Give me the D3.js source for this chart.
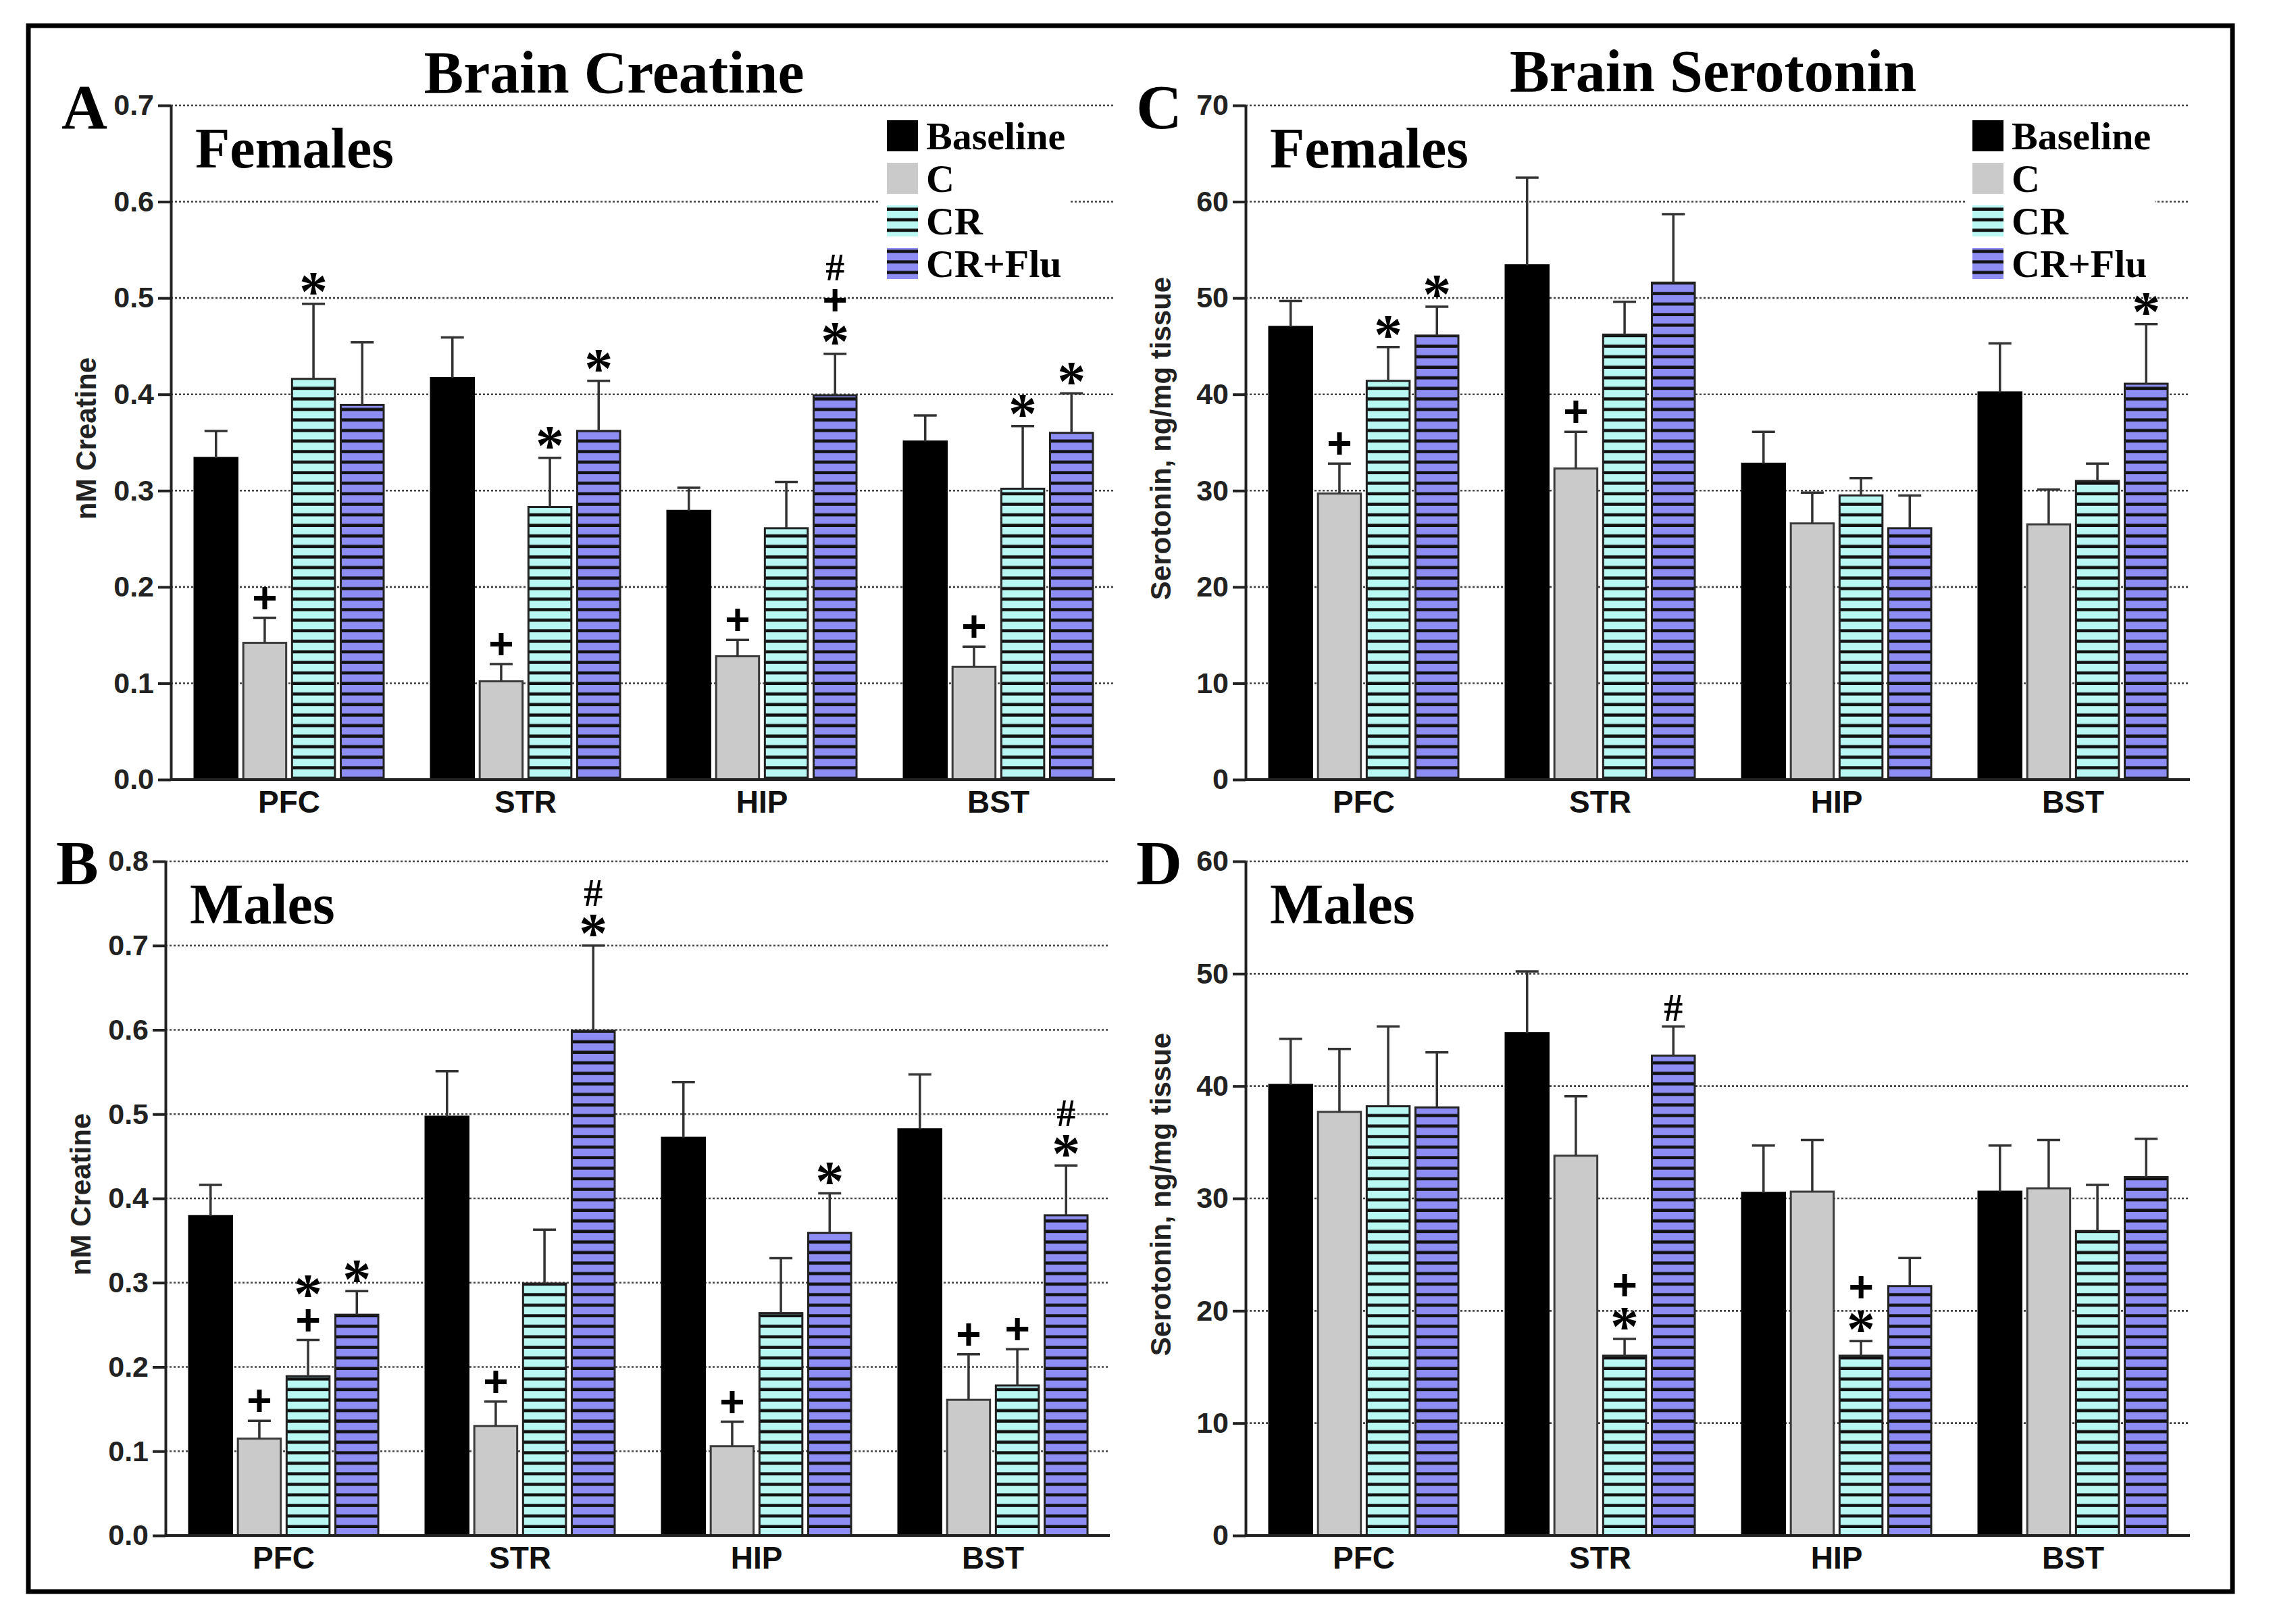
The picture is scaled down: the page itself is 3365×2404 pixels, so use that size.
<!DOCTYPE html>
<html>
<head>
<meta charset="utf-8">
<script src="https://cdn.jsdelivr.net/npm/d3@7"></script>
<style>
  body { margin: 0; background: #fff; }
  svg { display: block; }
</style>
</head>
<body>
<div id="chart"></div>
<script>
// Categories and series
const regions = ["PFC", "STR", "HIP", "BST"];
const groups = ["Baseline", "C", "CR", "CR+Flu"];

// A: creatine, females (rows = regions, cols = groups)
const creatineFemaleMean = [[0.334, 0.142, 0.416, 0.389], [0.417, 0.102, 0.283, 0.362], [0.279, 0.128, 0.261, 0.399], [0.351, 0.117, 0.302, 0.360]];
const creatineFemaleSem = [[0.028, 0.026, 0.078, 0.065], [0.042, 0.018, 0.051, 0.052], [0.024, 0.017, 0.048, 0.043], [0.027, 0.021, 0.065, 0.041]];
const creatineFemaleMarks = [["", "+", "*", ""], ["", "+", "*", "*"], ["", "+", "", "*+#"], ["", "+", "*", "*"]];

// B: creatine, males
const creatineMaleMean = [[0.379, 0.115, 0.189, 0.262], [0.497, 0.130, 0.299, 0.599], [0.472, 0.106, 0.264, 0.359], [0.482, 0.161, 0.178, 0.380]];
const creatineMaleSem = [[0.037, 0.021, 0.043, 0.028], [0.054, 0.029, 0.064, 0.101], [0.066, 0.029, 0.065, 0.047], [0.065, 0.054, 0.043, 0.059]];
const creatineMaleMarks = [["", "+", "+*", "*"], ["", "+", "", "*#"], ["", "+", "", "*"], ["", "+", "+", "*#"]];

// C: serotonin, females
const serotoninFemaleMean = [[47.0, 29.7, 41.4, 46.1], [53.4, 32.3, 46.2, 51.6], [32.8, 26.6, 29.5, 26.1], [40.2, 26.5, 31.0, 41.1]];
const serotoninFemaleSem = [[2.7, 3.1, 3.5, 3.0], [9.1, 3.8, 3.4, 7.1], [3.3, 3.2, 1.8, 3.4], [5.1, 3.6, 1.8, 6.2]];
const serotoninFemaleMarks = [["", "+", "*", "*"], ["", "+", "", ""], ["", "", "", ""], ["", "", "", "*"]];

// D: serotonin, males
const serotoninMaleMean = [[40.1, 37.7, 38.2, 38.1], [44.7, 33.8, 16.0, 42.7], [30.5, 30.6, 16.0, 22.2], [30.6, 30.9, 27.1, 31.9]];
const serotoninMaleSem = [[4.1, 5.6, 7.1, 4.9], [5.5, 5.3, 1.5, 2.6], [4.2, 4.6, 1.3, 2.5], [4.1, 4.3, 4.1, 3.4]];
const serotoninMaleMarks = [["", "", "", ""], ["", "", "*+", "#"], ["", "", "*+", ""], ["", "", "", ""]];

// Tick values
const creatineFemaleTicks = [0, 0.1, 0.2, 0.3, 0.4, 0.5, 0.6, 0.7];
const creatineMaleTicks = [0, 0.1, 0.2, 0.3, 0.4, 0.5, 0.6, 0.7, 0.8];
const serotoninFemaleTicks = [0, 10, 20, 30, 40, 50, 60, 70];
const serotoninMaleTicks = [0, 10, 20, 30, 40, 50, 60];

const W = 3365, H = 2404;
const SANS = "'Liberation Sans', Arial, sans-serif";
const SERIF = "'Liberation Serif', 'Times New Roman', serif";

const svg = d3.select("#chart")
  .append("svg")
  .attr("width", W)
  .attr("height", H)
  .attr("viewBox", `0 0 ${W} ${H}`);

svg.append("rect").attr("width", W).attr("height", H).attr("fill", "#fff");

// Hatch patterns
const defs = svg.append("defs");
function stripe(id, color) {
  const p = defs.append("pattern")
    .attr("id", id)
    .attr("patternUnits", "userSpaceOnUse")
    .attr("width", 20)
    .attr("height", 15.6);
  p.append("rect").attr("width", 20).attr("height", 15.6).attr("fill", color);
  p.append("rect").attr("y", 11).attr("width", 20).attr("height", 4.6).attr("fill", "#111");
}
stripe("hatchCyan", "#b9f7f3");
stripe("hatchBlue", "#8d8df3");

const fills = ["#000", "#cacaca", "url(#hatchCyan)", "url(#hatchBlue)"];
const strokes = ["#000", "#3a3a3a", "#222", "#222"];

// Outer frame
svg.append("rect")
  .attr("x", 42).attr("y", 38)
  .attr("width", 3263).attr("height", 2318)
  .attr("fill", "none")
  .attr("stroke", "#000")
  .attr("stroke-width", 7);

// Column titles
svg.append("text")
  .attr("x", 909).attr("y", 137)
  .attr("text-anchor", "middle")
  .style("font-family", SERIF).style("font-weight", "bold").style("font-size", "88px")
  .text("Brain Creatine");
svg.append("text")
  .attr("x", 2536).attr("y", 135)
  .attr("text-anchor", "middle")
  .style("font-family", SERIF).style("font-weight", "bold").style("font-size", "88px")
  .text("Brain Serotonin");

const panels = [
  { letter: "A", sex: "Females", x0: 253, top: 156, bottom: 1154, ticks: creatineFemaleTicks, fmt: ".1f",
    ylabel: "nM Creatine", mean: creatineFemaleMean, sem: creatineFemaleSem, marks: creatineFemaleMarks, legend: 1313 },
  { letter: "B", sex: "Males", x0: 245, top: 1275, bottom: 2273, ticks: creatineMaleTicks, fmt: ".1f",
    ylabel: "nM Creatine", mean: creatineMaleMean, sem: creatineMaleSem, marks: creatineMaleMarks },
  { letter: "C", sex: "Females", x0: 1844, top: 156, bottom: 1154, ticks: serotoninFemaleTicks, fmt: "d",
    ylabel: "Serotonin, ng/mg tissue", mean: serotoninFemaleMean, sem: serotoninFemaleSem, marks: serotoninFemaleMarks, legend: 2920 },
  { letter: "D", sex: "Males", x0: 1844, top: 1275, bottom: 2273, ticks: serotoninMaleTicks, fmt: "d",
    ylabel: "Serotonin, ng/mg tissue", mean: serotoninMaleMean, sem: serotoninMaleSem, marks: serotoninMaleMarks }
];

// glyph settings for significance marks: font, size, offset of glyph centre above baseline
const markStyle = {
  "+": { font: SANS, size: 64, mid: 0.33 },
  "*": { font: SERIF, size: 84, mid: 0.47 },
  "#": { font: SERIF, size: 56, mid: 0.36 }
};

panels.forEach(p => {
  const plotW = 1396;
  const g = svg.append("g");

  // X Scale (regions) and inner scale (groups)
  const x = d3.scaleBand()
    .domain(regions)
    .range([p.x0, p.x0 + 1400])
    .paddingInner(0.2)
    .paddingOuter(0.1);
  const xi = d3.scaleBand()
    .domain(groups)
    .range([0, x.bandwidth()])
    .paddingInner(0.12);

  // Y Scale
  const y = d3.scaleLinear()
    .domain([0, d3.max(p.ticks)])
    .range([p.bottom, p.top]);

  // Dotted grid
  g.append("g")
    .selectAll("line")
    .data(p.ticks.filter(t => t > 0))
    .join("line")
    .attr("x1", p.x0).attr("x2", p.x0 + plotW)
    .attr("y1", d => y(d)).attr("y2", d => y(d))
    .attr("stroke", "#444")
    .attr("stroke-width", 2.6)
    .attr("stroke-dasharray", "3 3");

  // Bars
  const cells = [];
  regions.forEach((r, i) => groups.forEach((k, j) => {
    cells.push({ r, k, j, v: p.mean[i][j], e: p.sem[i][j], m: p.marks[i][j] });
  }));

  const bw = xi.bandwidth();
  const cx = d => x(d.r) + xi(d.k) + bw / 2;
  g.append("g")
    .selectAll("rect")
    .data(cells)
    .join("rect")
    .attr("x", d => x(d.r) + xi(d.k))
    .attr("y", d => y(d.v))
    .attr("width", bw)
    .attr("height", d => y(0) - y(d.v))
    .attr("fill", d => fills[d.j])
    .attr("stroke", d => strokes[d.j])
    .attr("stroke-width", 3);

  // Error bars (upper only)
  const eb = g.append("g").attr("stroke", "#333").attr("stroke-width", 3.5);
  eb.selectAll("line.v")
    .data(cells)
    .join("line")
    .attr("class", "v")
    .attr("x1", cx).attr("x2", cx)
    .attr("y1", d => y(d.v))
    .attr("y2", d => y(d.v + d.e));
  eb.selectAll("line.cap")
    .data(cells)
    .join("line")
    .attr("class", "cap")
    .attr("x1", d => cx(d) - 17)
    .attr("x2", d => cx(d) + 17)
    .attr("y1", d => y(d.v + d.e))
    .attr("y2", d => y(d.v + d.e));

  // Significance marks: one text per bar, glyphs stacked bottom to top
  const mk = g.append("g")
    .selectAll("text")
    .data(cells.filter(d => d.m))
    .join("text")
    .attr("text-anchor", "middle")
    .style("font-weight", "bold");
  mk.each(function (d) {
    const t = d3.select(this);
    d.m.split("").forEach((ch, n) => {
      const s = markStyle[ch];
      const cy = y(d.v + d.e) - 29 - 50 * n;
      t.append("tspan")
        .attr("x", cx(d))
        .attr("y", cy + s.mid * s.size)
        .style("font-family", s.font)
        .style("font-size", s.size + "px")
        .text(ch);
    });
  });

  // Y Axis
  const yAxis = g.append("g")
    .attr("transform", `translate(${p.x0},0)`)
    .call(d3.axisLeft(y).tickValues(p.ticks).tickFormat(d3.format(p.fmt)).tickSize(19).tickSizeOuter(0).tickPadding(6));
  yAxis.selectAll("line, path").attr("stroke", "#222").attr("stroke-width", 4);
  yAxis.selectAll("text")
    .attr("fill", "#222")
    .style("font-family", SANS).style("font-weight", "bold").style("font-size", "43px");

  // X Axis
  const xAxis = g.append("g")
    .attr("transform", `translate(0,${p.bottom})`)
    .call(d3.axisBottom(x).tickSize(0).tickPadding(16));
  xAxis.select("path").attr("d", `M${p.x0},0H${p.x0 + 1398}`).attr("stroke", "#222").attr("stroke-width", 4);
  xAxis.selectAll("text")
    .attr("fill", "#111")
    .style("font-family", SANS).style("font-weight", "bold").style("font-size", "46px");

  // Y Axis Label
  g.append("text")
    .attr("transform", "rotate(-90)")
    .attr("x", -(p.top + p.bottom) / 2 + 6)
    .attr("y", p.x0 - 126)
    .attr("dy", "0.36em")
    .attr("text-anchor", "middle")
    .attr("fill", "#222")
    .style("font-family", SANS).style("font-weight", "bold").style("font-size", "42px")
    .text(p.ylabel);

  // Panel letter and sex label
  g.append("text")
    .attr("x", p.x0 - 162).attr("y", p.top + 34)
    .style("font-family", SERIF).style("font-weight", "bold").style("font-size", "94px")
    .text(p.letter);
  g.append("text")
    .attr("x", p.x0 + 36).attr("y", p.top + 92)
    .style("font-family", SERIF).style("font-weight", "bold").style("font-size", "84px")
    .text(p.sex);

  // Legend
  if (p.legend) {
    const lg = g.append("g");
    lg.append("rect")
      .attr("x", p.legend - 10).attr("y", 168)
      .attr("width", 280).attr("height", 258)
      .attr("fill", "#fff");
    const row = d3.scaleBand().domain(groups).range([178, 413]).paddingInner(0.27);
    lg.selectAll("rect.sw")
      .data(groups)
      .join("rect")
      .attr("class", "sw")
      .attr("x", p.legend)
      .attr("y", d => row(d))
      .attr("width", 46)
      .attr("height", row.bandwidth())
      .attr("fill", (d, i) => fills[i]);
    lg.selectAll("text")
      .data(groups)
      .join("text")
      .attr("x", p.legend + 58)
      .attr("y", d => row(d) + row.bandwidth() - 3)
      .style("font-family", SERIF).style("font-weight", "bold").style("font-size", "58px")
      .text(d => d);
  }
});
</script>
</body>
</html>
